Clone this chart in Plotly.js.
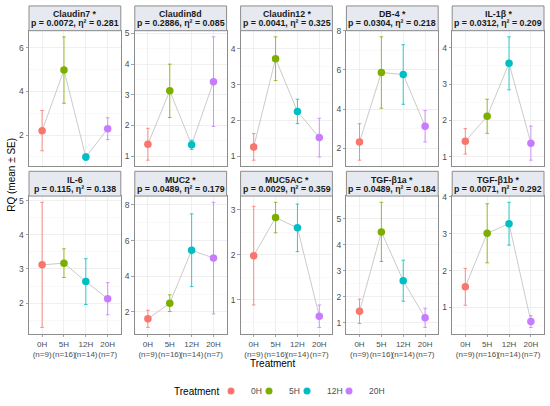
<!DOCTYPE html>
<html>
<head>
<meta charset="utf-8">
<script src="https://cdn.plot.ly/plotly-3.0.1.min.js"></script>
<style>html,body{margin:0;padding:0;background:#fff;}#chart{width:550px;height:406px;}</style>
</head>
<body>
<div id="chart"></div>
<script>
// ---- data ----
const genes = ['Claudin7 *', 'Claudin8d', 'Claudin12 *', 'DB-4 *', 'IL-1β *',
               'IL-6', 'MUC2 *', 'MUC5AC *', 'TGF-β1a *', 'TGF-β1b *'];
const statLabels = ['p = 0.0072, η² = 0.281', 'p = 0.2886, η² = 0.085', 'p = 0.0041, η² = 0.325',
                    'p = 0.0304, η² = 0.218', 'p = 0.0312, η² = 0.209', 'p = 0.115, η² = 0.138',
                    'p = 0.0489, η² = 0.179', 'p = 0.0029, η² = 0.359', 'p = 0.0489, η² = 0.184',
                    'p = 0.0071, η² = 0.292'];
const treatments = ['0H', '5H', '12H', '20H'];
const tickLabels = ['0H<br>(n=9)', '5H<br>(n=16)', '12H<br>(n=14)', '20H<br>(n=7)'];
const meanValues = [
  [2.20, 4.97, 0.99, 2.29],
  [1.39, 3.13, 1.37, 3.43],
  [1.26, 3.72, 2.25, 1.52],
  [2.33, 5.87, 5.77, 3.13],
  [1.42, 2.11, 3.57, 1.37],
  [3.12, 3.17, 2.63, 2.13],
  [1.61, 2.49, 5.46, 5.02],
  [1.98, 2.83, 2.60, 0.63],
  [1.44, 4.50, 2.62, 1.19],
  [1.56, 3.01, 3.27, 0.62]
];
const seValues = [
  [0.92, 1.52, 0.14, 0.50],
  [0.52, 0.87, 0.15, 1.46],
  [0.37, 0.61, 0.34, 0.54],
  [0.93, 1.82, 1.52, 0.80],
  [0.35, 0.47, 0.73, 0.47],
  [1.83, 0.42, 0.67, 0.47],
  [0.48, 0.47, 2.04, 3.13],
  [1.10, 0.34, 0.53, 0.25],
  [0.47, 1.14, 0.79, 0.37],
  [0.50, 0.80, 0.58, 0.16]
];

// ---- styling ----
const colors = ['#F8766D', '#7CAE00', '#00BFC4', '#C77CFF'];
const yDticks = [2, 1, 1, 2, 1, 1, 2, 1, 1, 1];
const W = 550, H = 406;
const FONT = 'Liberation Sans, Arial, sans-serif';
const panelLeft0 = 29, panelStep = 105.8, panelW = 91.8;
const rowTop = [31, 198], rowBot = [168, 337], stripH = 25;
const legendLeft = [211, 249, 287, 329];   // px, one small legend per treatment
const legendY = 395;

const traces = [];
const layout = {
  width: W, height: H,
  margin: {l: 0, r: 0, t: 0, b: 0},
  paper_bgcolor: '#fff', plot_bgcolor: '#fff',
  font: {family: FONT},
  showlegend: true,
  shapes: [], annotations: []
};

genes.forEach((g, i) => {
  const row = Math.floor(i / 5), col = i % 5;
  const ax = i === 0 ? '' : String(i + 1);
  const xk = 'x' + ax, yk = 'y' + ax;
  const l = panelLeft0 + col * panelStep, r = l + panelW;
  const t = rowTop[row], b = rowBot[row];

  const lo = meanValues[i].map((m, k) => m - seValues[i][k]);
  const hi = meanValues[i].map((m, k) => m + seValues[i][k]);
  const mn = Math.min(...lo), mx = Math.max(...hi), pad = (mx - mn) * 0.05;

  layout['xaxis' + ax] = {
    domain: [l / W, r / W], anchor: yk, type: 'category',
    categoryorder: 'array', categoryarray: treatments,
    range: [-0.6, 3.6], fixedrange: true,
    showgrid: true, gridcolor: '#ebebeb', gridwidth: 0.8,
    showline: true, mirror: true, linecolor: '#8c8c8c', linewidth: 1,
    zeroline: false,
    tickmode: 'array', tickvals: treatments, ticktext: tickLabels,
    showticklabels: row === 1, tickangle: 0,
    ticks: row === 1 ? 'outside' : '', ticklen: 2.5, tickcolor: '#8c8c8c', tickwidth: 0.8,
    tickfont: {size: 8, color: '#4d4d4d', family: FONT}
  };
  layout['yaxis' + ax] = {
    domain: [1 - b / H, 1 - t / H], anchor: xk,
    range: [mn - pad, mx + pad], fixedrange: true,
    tick0: 0, dtick: yDticks[i],
    showgrid: true, gridcolor: '#ebebeb', gridwidth: 0.8,
    minor: {showgrid: true, gridcolor: '#f3f3f3', gridwidth: 0.5, dtick: yDticks[i] / 2, tick0: 0},
    showline: true, mirror: true, linecolor: '#8c8c8c', linewidth: 1,
    zeroline: false,
    ticks: 'outside', ticklen: 2.5, tickcolor: '#8c8c8c', tickwidth: 0.8,
    tickfont: {size: 8.5, color: '#4d4d4d', family: FONT}
  };

  // strip
  layout.shapes.push({
    type: 'rect', xref: 'paper', yref: 'paper',
    x0: l / W, x1: r / W, y0: 1 - t / H, y1: 1 - (t - stripH) / H,
    fillcolor: '#E6EAF0', line: {color: '#8c8c8c', width: 1}, layer: 'above'
  });
  layout.annotations.push({
    xref: 'paper', yref: 'paper', x: (l + r) / 2 / W, y: 1 - (t - 16.7) / H,
    text: '<b>' + g + '</b>', showarrow: false, xanchor: 'center', yanchor: 'middle',
    font: {size: 8.8, color: '#1a1a1a', family: FONT}
  });
  layout.annotations.push({
    xref: 'paper', yref: 'paper', x: (l + r) / 2 / W, y: 1 - (t - 7.3) / H,
    text: '<b>' + statLabels[i] + '</b>', showarrow: false, xanchor: 'center', yanchor: 'middle',
    font: {size: 8.8, color: '#1a1a1a', family: FONT}
  });

  // connecting line
  traces.push({
    type: 'scatter', mode: 'lines', x: treatments, y: meanValues[i],
    xaxis: xk, yaxis: yk, showlegend: false, hoverinfo: 'skip',
    line: {color: '#c4c4c4', width: 0.9}
  });
  // points with error bars
  treatments.forEach((tr, k) => {
    traces.push({
      type: 'scatter', mode: 'markers', x: [tr], y: [meanValues[i][k]],
      xaxis: xk, yaxis: yk, showlegend: false,
      marker: {color: colors[k], size: 7.5},
      error_y: {type: 'data', array: [seValues[i][k]], visible: true,
                color: colors[k], thickness: 0.8, width: 1.8}
    });
  });
});

// legend entries: one tiny legend per treatment so spacing matches the reference
treatments.forEach((tr, k) => {
  const lg = k === 0 ? 'legend' : 'legend' + (k + 1);
  layout[lg] = {
    orientation: 'h', x: legendLeft[k] / W, xanchor: 'left', y: 1 - legendY / H, yanchor: 'middle',
    font: {size: 8.5, color: '#4d4d4d', family: FONT},
    itemwidth: 30, bgcolor: 'rgba(0,0,0,0)', borderwidth: 0
  };
  traces.push({
    type: 'scatter', mode: 'markers', x: [null], y: [null],
    name: tr, marker: {color: colors[k], size: 7},
    showlegend: true, legend: lg
  });
});

// legend title and axis titles
layout.annotations.push({
  xref: 'paper', yref: 'paper', x: 221 / W, y: 1 - legendY / H,
  text: 'Treatment', showarrow: false, xanchor: 'right', yanchor: 'middle',
  font: {size: 10, color: '#000', family: FONT}
});
layout.annotations.push({
  xref: 'paper', yref: 'paper', x: 272 / W, y: 1 - 367 / H,
  text: 'Treatment', showarrow: false, xanchor: 'center', yanchor: 'middle',
  font: {size: 10, color: '#000', family: FONT}
});
layout.annotations.push({
  xref: 'paper', yref: 'paper', x: 11.5 / W, y: 1 - 177 / H,
  text: 'RQ (mean ± SE)', showarrow: false, textangle: -90, xanchor: 'center', yanchor: 'middle',
  font: {size: 10, color: '#000', family: FONT}
});

Plotly.newPlot('chart', traces, layout, {displayModeBar: false, staticPlot: true});
</script>
</body>
</html>
